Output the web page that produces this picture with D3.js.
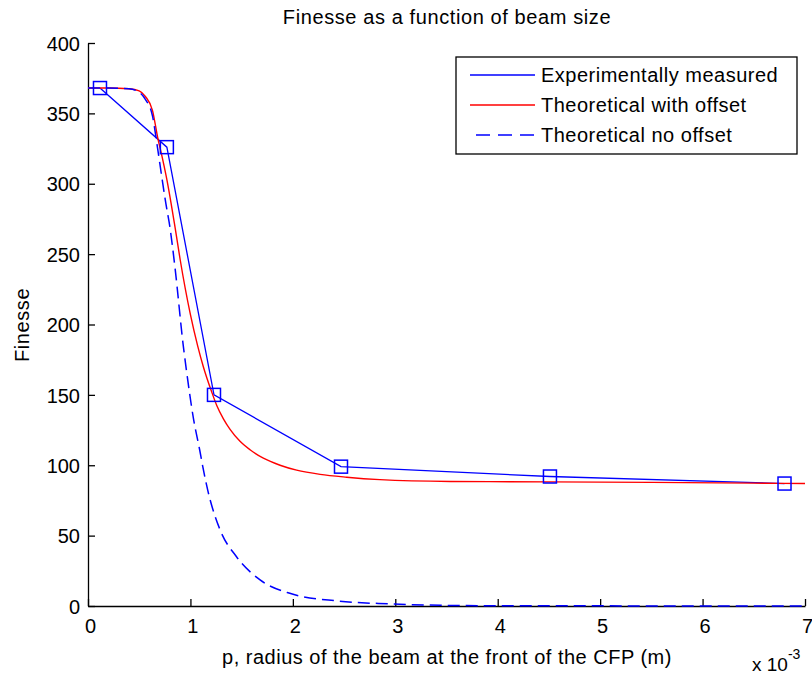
<!DOCTYPE html>
<html>
<head>
<meta charset="utf-8">
<script src="https://cdn.jsdelivr.net/npm/d3@7"></script>
<style>
  html, body { margin: 0; padding: 0; background: #fff; }
  svg { display: block; }
  text { font-family: "Liberation Sans", Arial, sans-serif; fill: #000; }
</style>
</head>
<body>
<svg id="chart" width="812" height="677"></svg>
<script>
// Beam radius in units of 1e-3 m, finesse values
const measuredX = [0.117, 0.77, 1.23, 2.47, 4.51, 6.80];
const measuredY = [368, 326, 150, 99, 92, 87];

const offsetX = [0, 0.2, 0.4, 0.5, 0.56, 0.63, 0.68, 0.73, 0.77, 0.85, 0.9, 1.0, 1.07, 1.126, 1.208, 1.257, 1.322, 1.387, 1.484, 1.582, 1.712, 1.875, 2.037, 2.266, 2.526, 2.85, 3.54, 4.5, 5.5, 6.5, 7.0];
const offsetY = [368, 368, 367.5, 366, 362, 352, 333, 317, 303, 269, 246, 207, 185, 170, 152, 142.5, 133, 125.5, 117, 111, 105, 100, 96.5, 93.5, 91.5, 89.8, 88.5, 88.2, 87.8, 87.3, 87];

const noOffsetX = [0, 0.2, 0.4, 0.5, 0.56, 0.63, 0.68, 0.72, 0.76, 0.8, 0.85, 0.93, 0.96, 1.03, 1.09, 1.126, 1.17, 1.29, 1.45, 1.68, 1.97, 2.43, 2.95, 3.44, 4.0, 5.0, 6.0, 7.0];
const noOffsetY = [368, 368, 367.5, 365, 360, 348, 325, 305, 286, 269, 240, 185, 168, 133, 111, 97, 82, 54, 35, 18.5, 9, 3.6, 1.5, 0.5, 0.2, 0.1, 0, 0];

const xTicks = [0, 1, 2, 3, 4, 5, 6, 7];
const yTicks = [0, 50, 100, 150, 200, 250, 300, 350, 400];

const legendLabels = ["Experimentally measured", "Theoretical with offset", "Theoretical no offset"];

const svg = d3.select("#chart");
const plotLeft = 88, plotRight = 805, plotTop = 43, plotBottom = 606;

const x = d3.scaleLinear().domain([0, 7]).range([plotLeft, plotRight]);
const y = d3.scaleLinear().domain([0, 400]).range([plotBottom, plotTop]);

const BLUE = "#0000ff", RED = "#ff0000";

// Axes (ticks point inward, no surrounding box)
const xAxis = svg.append("g").attr("transform", `translate(0,${plotBottom})`)
  .call(d3.axisBottom(x).tickValues(xTicks).tickSizeInner(-7).tickSizeOuter(0).tickPadding(10).tickFormat(d3.format("d")));
const yAxis = svg.append("g").attr("transform", `translate(${plotLeft},0)`)
  .call(d3.axisLeft(y).tickValues(yTicks).tickSizeInner(-7).tickSizeOuter(0).tickPadding(8).tickFormat(d3.format("d")));

[xAxis, yAxis].forEach(g => {
  g.select(".domain").attr("stroke", "#000").attr("stroke-width", 1.3);
  g.selectAll(".tick line").attr("stroke", "#000").attr("stroke-width", 1.3);
  g.selectAll(".tick text").attr("font-size", 20).attr("fill", "#000")
    .attr("font-family", "'Liberation Sans', Arial, sans-serif");
});
xAxis.selectAll(".tick text").attr("dy", "0.85em").attr("dx", 2);
yAxis.selectAll(".tick text").attr("dy", "0.36em");

const lineOf = (xs, ys, curve) => d3.line()
  .x((d, i) => x(xs[i])).y((d, i) => y(ys[i])).curve(curve)(xs);

// Measured data: straight segments between samples
svg.append("path")
  .attr("d", lineOf(measuredX, measuredY, d3.curveLinear))
  .attr("fill", "none").attr("stroke", BLUE).attr("stroke-width", 1.3);

// Model with offset
svg.append("path")
  .attr("d", lineOf(offsetX, offsetY, d3.curveMonotoneX))
  .attr("fill", "none").attr("stroke", RED).attr("stroke-width", 1.4);

// Model without offset (dashed)
svg.append("path")
  .attr("d", lineOf(noOffsetX, noOffsetY, d3.curveMonotoneX))
  .attr("fill", "none").attr("stroke", BLUE).attr("stroke-width", 1.5)
  .attr("stroke-dasharray", "12,6");

// Square markers on the measured points
svg.append("g").selectAll("rect").data(measuredX).join("rect")
  .attr("x", (d) => x(d) - 6.5)
  .attr("y", (d, i) => y(measuredY[i]) - 6.5)
  .attr("width", 13).attr("height", 13)
  .attr("fill", "none").attr("stroke", BLUE).attr("stroke-width", 1.5);

// Title and axis labels
svg.append("text").attr("x", 447).attr("y", 24).attr("text-anchor", "middle")
  .attr("font-size", 20).attr("letter-spacing", 0.6)
  .text("Finesse as a function of beam size");

svg.append("text").attr("x", 447).attr("y", 664).attr("text-anchor", "middle")
  .attr("font-size", 20).attr("letter-spacing", 0.5)
  .text("p, radius of the beam at the front of the CFP (m)");

svg.append("text").attr("transform", "translate(29,325) rotate(-90)")
  .attr("text-anchor", "middle").attr("font-size", 20).attr("letter-spacing", 0.6)
  .text("Finesse");

// Exponent of the x axis
const expo = svg.append("text").attr("x", 752).attr("y", 671).attr("font-size", 19);
expo.append("tspan").text("x 10");
expo.append("tspan").attr("dy", -12).attr("font-size", 14).text("-3");

// Legend
const lg = svg.append("g").attr("transform", "translate(456,57)");
lg.append("rect").attr("width", 341).attr("height", 97)
  .attr("fill", "#fff").attr("stroke", "#000").attr("stroke-width", 1.3);
const styles = [
  { color: BLUE, dash: null },
  { color: RED, dash: null },
  { color: BLUE, dash: "14,8" }
];
legendLabels.forEach((label, i) => {
  const rowY = 18 + i * 30;
  lg.append("line")
    .attr("x1", styles[i].dash ? 20 : 14).attr("x2", 79)
    .attr("y1", rowY).attr("y2", rowY)
    .attr("stroke", styles[i].color).attr("stroke-width", 1.4)
    .attr("stroke-dasharray", styles[i].dash);
  lg.append("text").attr("x", 85).attr("y", rowY + 7)
    .attr("font-size", 20).attr("letter-spacing", 0.5).text(label);
});
</script>
</body>
</html>
